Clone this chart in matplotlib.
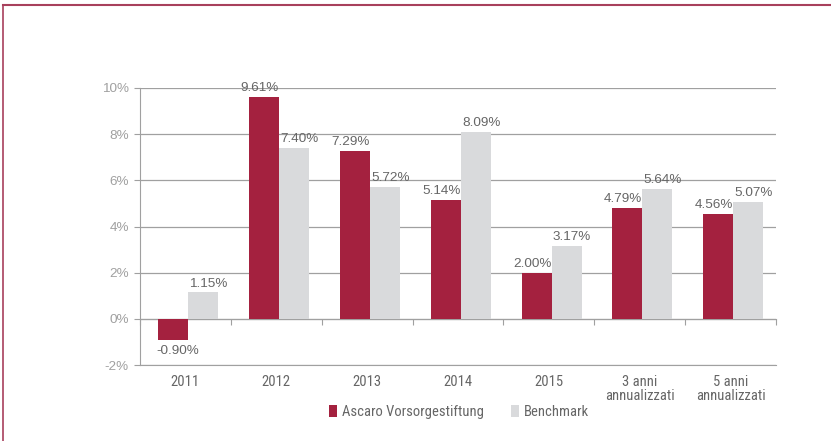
import matplotlib.pyplot as plt
import numpy as np
from matplotlib.lines import Line2D
from matplotlib import font_manager

categories = ["2011", "2012", "2013", "2014", "2015", "3 anni\nannualizzati", "5 anni\nannualizzati"]
ascaro = [-0.90, 9.61, 7.29, 5.14, 2.00, 4.79, 4.56]
benchmark = [1.15, 7.40, 5.72, 8.09, 3.17, 5.64, 5.07]
series_names = ["Ascaro Vorsorgestiftung", "Benchmark"]

red = "#a4213f"
grey = "#d9dadc"
text_col = "#666666"
line_col = "#a0a0a0"

names = {f.name for f in font_manager.fontManager.ttflist}
narrow = [n for n in ['Roboto Condensed', 'Liberation Sans Narrow'] if n in names] + ['DejaVu Sans']
num_font = dict(family=['Liberation Sans', 'DejaVu Sans'], size=9.7)
word_font = dict(family=narrow, size=10.5)

fig = plt.figure(figsize=(8.31, 4.41), dpi=100)
ax = fig.add_axes([140 / 831, 1 - 365 / 441, 636 / 831, 277 / 441])

x = np.arange(len(categories)) + 0.03
w = 0.33
b1 = ax.bar(x - w / 2, ascaro, w, color=red, label=series_names[0])
b2 = ax.bar(x + w / 2, benchmark, w, color=grey, label=series_names[1])

# labels nudged apart a little, as the spreadsheet did
for rect, v in zip(b1, ascaro):
    va = 'bottom' if v >= 0 else 'top'
    off = 2 if v >= 0 else -4
    ax.annotate(f"{v:.2f}%", (rect.get_x() + rect.get_width() / 2, v),
                xytext=(-3 if v >= 0 else 3, off), textcoords='offset points', ha='center', va=va,
                color=text_col, **num_font)
for rect, v in zip(b2, benchmark):
    ax.annotate(f"{v:.2f}%", (rect.get_x() + rect.get_width() / 2, v),
                xytext=(4, 2), textcoords='offset points', ha='center', va='bottom',
                color=text_col, **num_font)

ax.set_xlim(-0.5, len(categories) - 0.5)
ax.set_ylim(-2, 10)
ax.set_yticks(np.arange(-2, 11, 2))
ax.set_yticklabels([f"{t}%" for t in range(-2, 11, 2)], color=text_col, **num_font)
ax.yaxis.grid(True, color=line_col, linewidth=0.9)
ax.set_axisbelow(True)

ax.set_xticks(np.arange(len(categories)))
ax.set_xticklabels(categories, color=text_col, linespacing=1.05, **word_font)
ax.tick_params(axis='x', length=0, pad=7)
ax.tick_params(axis='y', colors=line_col, length=4, pad=4)

for s in ['top', 'right']:
    ax.spines[s].set_visible(False)
ax.spines['left'].set_color(line_col)
ax.spines['bottom'].set_color(line_col)

# category axis at zero with small boundary ticks
zero_axis = ax.secondary_xaxis(2 / 12)
zero_axis.set_xticks(np.arange(-0.5, len(categories), 1.0))
zero_axis.tick_params(axis='x', direction='out', length=4, color=line_col, labelbottom=False, labeltop=False)
zero_axis.spines['bottom'].set_color(line_col)
zero_axis.spines['top'].set_visible(False)

fig.legend(handles=[b1, b2], labels=series_names, loc='center', bbox_to_anchor=(0.552, 1 - 412 / 441),
           ncol=2, frameon=False, prop=word_font, handlelength=0.6, handleheight=0.9,
           handletextpad=0.3, columnspacing=1.85, labelcolor=text_col)

# outer frame lines
border = "#a8405c"
fig.add_artist(Line2D([3 / 831, 1], [1 - 5 / 441, 1 - 5 / 441], color=border, lw=1.5, transform=fig.transFigure))
fig.add_artist(Line2D([3 / 831, 3 / 831], [0, 1 - 5 / 441], color=border, lw=1.2, transform=fig.transFigure))

fig.savefig("out.png", dpi=100)
